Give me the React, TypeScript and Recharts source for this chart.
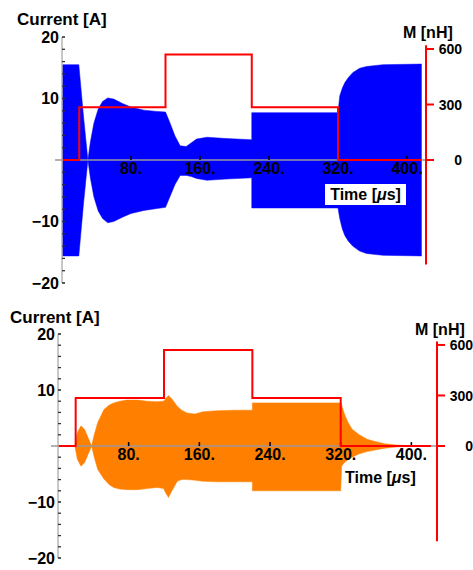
import React from 'react';
import { ComposedChart, Area, Line, XAxis, YAxis, ReferenceLine, ReferenceDot } from 'recharts';

// upper panel: current envelope (blue), time in µs, current in A
const topTime = [0, 19.5, 25, 30, 33, 37, 42, 47, 53, 60, 70, 80, 95, 110, 120, 125, 131, 137, 144, 150, 156, 168, 190, 220, 220, 320, 322, 325, 328, 332, 337, 345, 353, 372, 417];
const topUpper = [15.5, 15.5, 7, 0, 3, 6, 8.3, 9.5, 10.1, 9.9, 9.2, 8.6, 8.1, 7.9, 7.8, 6.1, 3.9, 2.3, 2.2, 2.8, 3.4, 3.7, 3.5, 3.3, 7.7, 7.7, 10.4, 11.7, 12.6, 13.4, 14.2, 14.9, 15.2, 15.5, 15.6];
const topLower = [-15.6, -15.6, -7, 0, -3, -6, -8.3, -9.5, -10.2, -10, -9.3, -8.7, -8.2, -7.9, -7.7, -6.0, -4.0, -2.5, -2.5, -2.7, -3.0, -3.3, -3.1, -2.9, -7.8, -7.8, -9.5, -11.2, -12.3, -13.2, -14.0, -14.8, -15.2, -15.5, -15.6];

// lower panel: current envelope (orange)
const botTime = [0, 19, 22, 26, 30, 34, 38, 41, 45, 52, 58, 63, 70, 78, 90, 101, 112, 119.5, 122, 125, 129, 135, 140, 146, 155, 164, 180, 200, 220, 220, 320, 321, 324, 328, 333, 341, 350, 359, 370, 385, 400, 422];
const botUpper = [0, 0, 2.4, 3.6, 3.0, 1.5, 0, 2.0, 4.2, 6.5, 7.3, 7.7, 8.0, 8.2, 8.2, 8.0, 7.9, 8.0, 8.5, 9.0, 8.4, 7.1, 6.4, 5.9, 5.7, 6.1, 6.3, 6.4, 6.4, 7.7, 7.7, 7.3, 5.8, 4.3, 3.0, 2.0, 1.2, 0.8, 0.4, 0.15, 0.05, 0];
const botLower = [0, 0, -2.4, -3.6, -3.0, -1.5, 0, -2.0, -4.2, -5.9, -6.9, -7.4, -7.7, -7.8, -7.8, -7.6, -7.4, -7.6, -8.4, -9.2, -8.0, -6.3, -6.0, -6.0, -6.1, -6.3, -6.4, -6.4, -6.4, -8.0, -8.0, -3.6, -3.0, -2.5, -2.0, -1.4, -1.0, -0.7, -0.4, -0.15, -0.05, 0];

// mutual inductance M [nH], step profile
const mValues = [0, 0, 285, 285, 570, 570, 285, 285, 0, 0];
const mTimeTop = [0, 20, 20, 120, 120, 220, 220, 320, 320, 417];
const mTimeBottom = [0, 20, 20, 120, 120, 220, 220, 320, 320, 422];

const timeTicks = [80, 160, 240, 320, 400];
const currentTicks = [-20, -18, -16, -14, -12, -10, -8, -6, -4, -2, 0, 2, 4, 6, 8, 10, 12, 14, 16, 18, 20];
const mTicks = [0, 300, 600];

const FONT = '"Liberation Sans", Arial, sans-serif';

const CurrentTick = (props: any) => {
  const { x, y, payload } = props;
  const v = payload.value;
  if (v === 0) {
    return <line x1={x - 7} x2={x} y1={y} y2={y} stroke="#999" strokeWidth={1.5} />;
  }
  const major = v % 10 === 0;
  return (
    <g>
      <line x1={x} x2={x + 3} y1={y} y2={y} stroke="#333" strokeWidth={major ? 1.6 : 1.3} />
      {major && (
        <text x={x - 3} y={y} dy="0.36em" textAnchor="end" fontSize={16} fontWeight="bold" fill="#000" fontFamily={FONT}>
          {v < 0 ? `\u2212${-v}` : `${v}`}
        </text>
      )}
    </g>
  );
};

const MTick = (props: any) => {
  const { x, y, payload } = props;
  return (
    <text x={x + 24} y={y} dy="0.36em" textAnchor="end" fontSize={14} fontWeight="bold" fill="#000" fontFamily={FONT}>
      {payload.value}
    </text>
  );
};

interface PanelProps {
  time: number[];
  upper: number[];
  lower: number[];
  mTime: number[];
  color: string;
  xMax: number;
  height: number;
  marginTop: number;
  marginBottom: number;
  leftWidth: number;
  rightWidth: number;
}

const Panel: React.FC<PanelProps> = ({ time, upper, lower, mTime, color, xMax, height, marginTop, marginBottom, leftWidth, rightWidth }) => {
  const band = time.map((t, i) => ({ t, band: [lower[i], upper[i]] }));
  const mData = mTime.map((t, i) => ({ t, m: mValues[i] }));
  return (
    <ComposedChart width={473} height={height} margin={{ top: marginTop, right: 0, bottom: marginBottom, left: 0 }}>
      <XAxis type="number" dataKey="t" domain={[0, xMax]} hide allowDuplicatedCategory={false} />
      <YAxis
        yAxisId="left"
        domain={[-20, 20]}
        ticks={currentTicks}
        interval={0}
        width={leftWidth}
        tickSize={0}
        tickMargin={0}
        tickLine={false}
        axisLine={{ stroke: '#b5b5b5', strokeWidth: 1.5 }}
        tick={CurrentTick}
      />
      <YAxis
        yAxisId="right"
        orientation="right"
        domain={[-665, 665]}
        ticks={mTicks}
        interval={0}
        width={rightWidth}
        tickSize={8}
        tickMargin={4}
        axisLine={false}
        tickLine={{ stroke: '#ff0000', strokeWidth: 2 }}
        tick={MTick}
      />
      <Area
        yAxisId="left"
        data={band}
        dataKey="band"
        type="linear"
        stroke={color}
        strokeWidth={0.5}
        fill={color}
        fillOpacity={1}
        isAnimationActive={false}
      />
      <ReferenceLine yAxisId="left" y={0} stroke="#999" strokeWidth={1.5} />
      {timeTicks.map((t) => (
        <ReferenceLine
          key={`tk${t}`}
          yAxisId="left"
          segment={[{ x: t, y: 0 }, { x: t, y: 0.7 }]}
          stroke="#000"
          strokeWidth={1.6}
        />
      ))}
      <Line
        yAxisId="right"
        data={mData}
        dataKey="m"
        type="linear"
        stroke="#ff0000"
        strokeWidth={2}
        dot={false}
        isAnimationActive={false}
      />
      <ReferenceLine
        yAxisId="right"
        segment={[{ x: xMax, y: 620 }, { x: xMax, y: -565 }]}
        stroke="#ff0000"
        strokeWidth={2}
      />
      {timeTicks.map((t) => (
        <ReferenceDot
          key={`lb${t}`}
          yAxisId="left"
          x={t}
          y={0}
          r={0}
          fill="none"
          stroke="none"
          label={{ value: `${t}.`, position: 'bottom', offset: 3, fill: '#000', fontSize: 16, fontWeight: 'bold', fontFamily: FONT }}
        />
      ))}
    </ComposedChart>
  );
};

const labelStyle: React.CSSProperties = {
  position: 'absolute',
  fontFamily: FONT,
  fontWeight: 'bold',
  color: '#000',
  whiteSpace: 'nowrap',
};

export default function App() {
  return (
    <div style={{ position: 'absolute', left: 0, top: 0, width: 473, height: 570, background: '#fff', overflow: 'hidden' }}>
      <div style={{ position: 'absolute', left: 0, top: 0 }}>
        <Panel
          time={topTime}
          upper={topUpper}
          lower={topLower}
          mTime={mTimeTop}
          color="#0000ff"
          xMax={422}
          height={300}
          marginTop={37}
          marginBottom={17}
          leftWidth={62}
          rightWidth={47}
        />
      </div>
      <div style={{ position: 'absolute', left: 0, top: 290 }}>
        <Panel
          time={botTime}
          upper={botUpper}
          lower={botLower}
          mTime={mTimeBottom}
          color="#ff8000"
          xMax={429}
          height={280}
          marginTop={44}
          marginBottom={12}
          leftWidth={58}
          rightWidth={36}
        />
      </div>

      <div style={{ ...labelStyle, left: 17, top: 11, fontSize: 17, lineHeight: '17px' }}>Current [A]</div>
      <div style={{ ...labelStyle, left: 403, top: 25, fontSize: 16, lineHeight: '16px' }}>M [nH]</div>
      <div
        style={{
          ...labelStyle,
          left: 325,
          top: 184,
          width: 81,
          height: 21,
          background: '#fff',
          fontSize: 16,
          lineHeight: '21px',
          textAlign: 'center',
        }}
      >
        Time [<i>μ</i>s]
      </div>

      <div style={{ ...labelStyle, left: 10, top: 309, fontSize: 17, lineHeight: '17px' }}>Current [A]</div>
      <div style={{ ...labelStyle, left: 415, top: 322, fontSize: 16, lineHeight: '16px' }}>M [nH]</div>
      <div style={{ ...labelStyle, left: 345, top: 469, fontSize: 16, lineHeight: '18px' }}>
        Time [<i>μ</i>s]
      </div>
    </div>
  );
}
